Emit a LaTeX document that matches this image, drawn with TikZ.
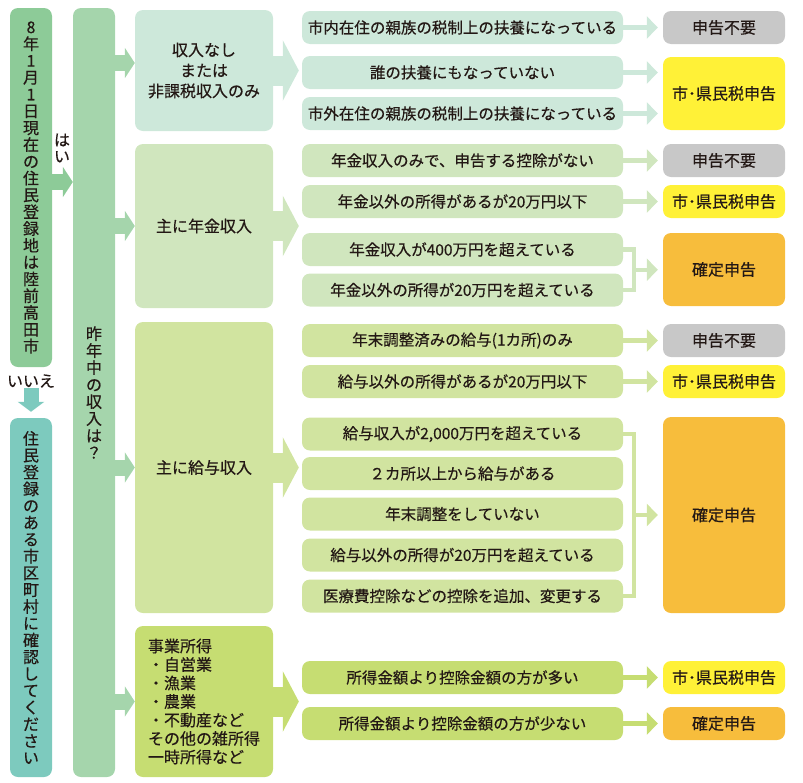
\documentclass[tikz,border=0pt]{standalone}
\usepackage{fontspec}
\setmainfont{Noto Sans CJK JP}[FakeBold=0.4]
\usepackage{xcolor}
\usepackage{tikz}
\usetikzlibrary{positioning, arrows.meta, calc}
\definecolor{homegreen}{RGB}{141, 203, 152}
\definecolor{askteal}{RGB}{125, 202, 190}
\definecolor{incomegreen}{RGB}{165, 213, 172}
\definecolor{nonemint}{RGB}{205, 232, 218}
\definecolor{pensiongreen}{RGB}{208, 230, 190}
\definecolor{salarylime}{RGB}{209, 228, 160}
\definecolor{businesslime}{RGB}{198, 221, 114}
\definecolor{skipgray}{RGB}{200, 200, 200}
\definecolor{cityyellow}{RGB}{255, 241, 55}
\definecolor{finalorange}{RGB}{247, 189, 60}
\definecolor{inkblack}{RGB}{35, 24, 21}

\begin{document}
\begin{tikzpicture}[x=1pt, y=-1pt,
        box/.style={rounded corners=8pt, inner sep=0pt, text=inkblack, align=center},
        tall/.style={box, minimum width=42pt, font=\fontsize{16}{16.8}\selectfont},
        kind/.style={box, minimum width=138pt, font=\fontsize{16}{20.5}\selectfont},
        cond/.style={box, minimum width=321pt, minimum height=33pt, font=\fontsize{15.5}{18}\selectfont},
        result/.style={box, minimum width=122pt, minimum height=33pt, font=\fontsize{16}{19}\selectfont},
        colarrow/.style={line width=16pt, -{Triangle[length=10pt, width=30pt]}},
        bigarrow/.style={line width=30pt, -{Triangle[length=16pt, width=60pt]}},
        smallarrow/.style={line width=4.5pt, -{Triangle[length=11pt, width=22pt]}},
        bracket/.style={line width=4.5pt}]
    \useasboundingbox (0,0) rectangle (803,782);

    % left column
    \node[tall, fill=homegreen, minimum height=359pt] (home) at (31,187.5)
        {8\\年\\1\\月\\1\\日\\現\\在\\の\\住\\民\\登\\録\\地\\は\\陸\\前\\高\\田\\市};
    \node[tall, fill=askteal, minimum height=359pt] (other) at (31,597.5)
        {住\\民\\登\\録\\の\\あ\\る\\市\\区\\町\\村\\に\\確\\認\\し\\て\\く\\だ\\さ\\い};
    \node[tall, fill=incomegreen, minimum height=769pt, font=\fontsize{16}{17}\selectfont] (income) at (94,392.5)
        {昨\\年\\中\\の\\収\\入\\は\\？};
    \node[inner sep=0pt, text=inkblack, align=center, font=\fontsize{16}{16.5}\selectfont] (yes) at (62,148) {は\\い};
    \node[inner sep=0pt, text=inkblack, font=\fontsize{16}{18}\selectfont] (no) at (31,381) {いいえ};

    % kinds of income
    \node[kind, fill=nonemint, minimum height=121pt] (kindA) at (204,70.5) {収入なし\\または\\非課税収入のみ};
    \node[kind, fill=pensiongreen, minimum height=164pt] (kindB) at (204,226) {主に年金収入};
    \node[kind, fill=salarylime, minimum height=291pt] (kindC) at (204,467.5) {主に給与収入};
    \node[kind, fill=businesslime, minimum height=151pt, align=left, font=\fontsize{16}{18.5}\selectfont] (kindD) at (204,701.5)
        {事業所得\\・自営業\\・漁業\\・農業\\・不動産など\\その他の雑所得\\一時所得など};

    % conditions
    \node[cond, fill=nonemint] (r1) at (462.5,27.5) {市内在住の親族の税制上の扶養になっている};
    \node[cond, fill=nonemint] (r2) at (462.5,72.5) {誰の扶養にもなっていない};
    \node[cond, fill=nonemint] (r3) at (462.5,113.5) {市外在住の親族の税制上の扶養になっている};
    \node[cond, fill=pensiongreen] (r4) at (462.5,160.5) {年金収入のみで、申告する控除がない};
    \node[cond, fill=pensiongreen] (r5) at (462.5,201.5) {年金以外の所得があるが20万円以下};
    \node[cond, fill=pensiongreen] (r6) at (462.5,249.5) {年金収入が400万円を超えている};
    \node[cond, fill=pensiongreen] (r7) at (462.5,290) {年金以外の所得が20万円を超えている};
    \node[cond, fill=salarylime] (r8) at (462.5,340.5) {年末調整済みの給与(1カ所)のみ};
    \node[cond, fill=salarylime] (r9) at (462.5,381.5) {給与以外の所得があるが20万円以下};
    \node[cond, fill=salarylime] (r10) at (462.5,434) {給与収入が2,000万円を超えている};
    \node[cond, fill=salarylime] (r11) at (462.5,473.5) {２カ所以上から給与がある};
    \node[cond, fill=salarylime] (r12) at (462.5,514) {年末調整をしていない};
    \node[cond, fill=salarylime] (r13) at (462.5,555) {給与以外の所得が20万円を超えている};
    \node[cond, fill=salarylime] (r14) at (462.5,596) {医療費控除などの控除を追加、変更する};
    \node[cond, fill=businesslime] (r15) at (462.5,677.5) {所得金額より控除金額の方が多い};
    \node[cond, fill=businesslime] (r16) at (462.5,723.5) {所得金額より控除金額の方が少ない};

    % results
    \node[result, fill=skipgray] (s1) at (724,27.5) {申告不要};
    \node[result, fill=cityyellow, minimum height=73pt] (s2) at (724,93.5) {市･県民税申告};
    \node[result, fill=skipgray] (s3) at (724,160.5) {申告不要};
    \node[result, fill=cityyellow] (s4) at (724,201.5) {市･県民税申告};
    \node[result, fill=finalorange, minimum height=73pt] (s5) at (724,269.5) {確定申告};
    \node[result, fill=skipgray] (s6) at (724,340.5) {申告不要};
    \node[result, fill=cityyellow] (s7) at (724,381.5) {市･県民税申告};
    \node[result, fill=finalorange, minimum height=196pt] (s8) at (724,515) {確定申告};
    \node[result, fill=cityyellow] (s9) at (724,677.5) {市･県民税申告};
    \node[result, fill=finalorange] (s10) at (724,723.5) {確定申告};

    % arrows
    \coordinate (homeOut) at ([yshift=5.5pt]home.east);
    \draw[colarrow, homegreen] (homeOut) -- (homeOut -| income.west);
    \draw[line width=15pt, askteal, -{Triangle[length=10pt, width=26pt]}] (no.south) -- ([yshift=6pt]other.north);
    \coordinate (kindAIn) at ([yshift=7.5pt]kindA.west);
    \draw[colarrow, incomegreen] (kindAIn -| income.east) -- (kindAIn);
    \foreach \k in {kindB, kindC, kindD}
        \draw[colarrow, incomegreen] (\k.west -| income.east) -- (\k.west);
    \coordinate (condTip) at ([xshift=-3pt]r1.west);
    \foreach \k/\c in {kindA/nonemint, kindB/pensiongreen, kindC/salarylime, kindD/businesslime}
        \draw[bigarrow, \c] (\k.east) -- (\k.east -| condTip);
    \coordinate (resTip) at ([xshift=-5pt]s1.west);
    \foreach \r/\c in {r1/nonemint, r2/nonemint, r3/nonemint, r4/pensiongreen, r5/pensiongreen,
            r8/salarylime, r9/salarylime, r15/businesslime, r16/businesslime}
        \draw[smallarrow, \c] (\r.east) -- (\r.east -| resTip);
    \draw[bracket, pensiongreen] (r6.east) -- ++(11pt,0) |- (r7.east);
    \coordinate (joinB) at ($(r6.east)!.5!(r7.east)+(11pt,0)$);
    \draw[smallarrow, pensiongreen] (joinB) -- (joinB -| resTip);
    \draw[bracket, salarylime] (r10.east) -- ++(11pt,0) |- (r14.east);
    \coordinate (joinC) at ($(r10.east)!.5!(r14.east)+(11pt,0)$);
    \draw[smallarrow, salarylime] (joinC) -- (joinC -| resTip);
\end{tikzpicture}
\end{document}
